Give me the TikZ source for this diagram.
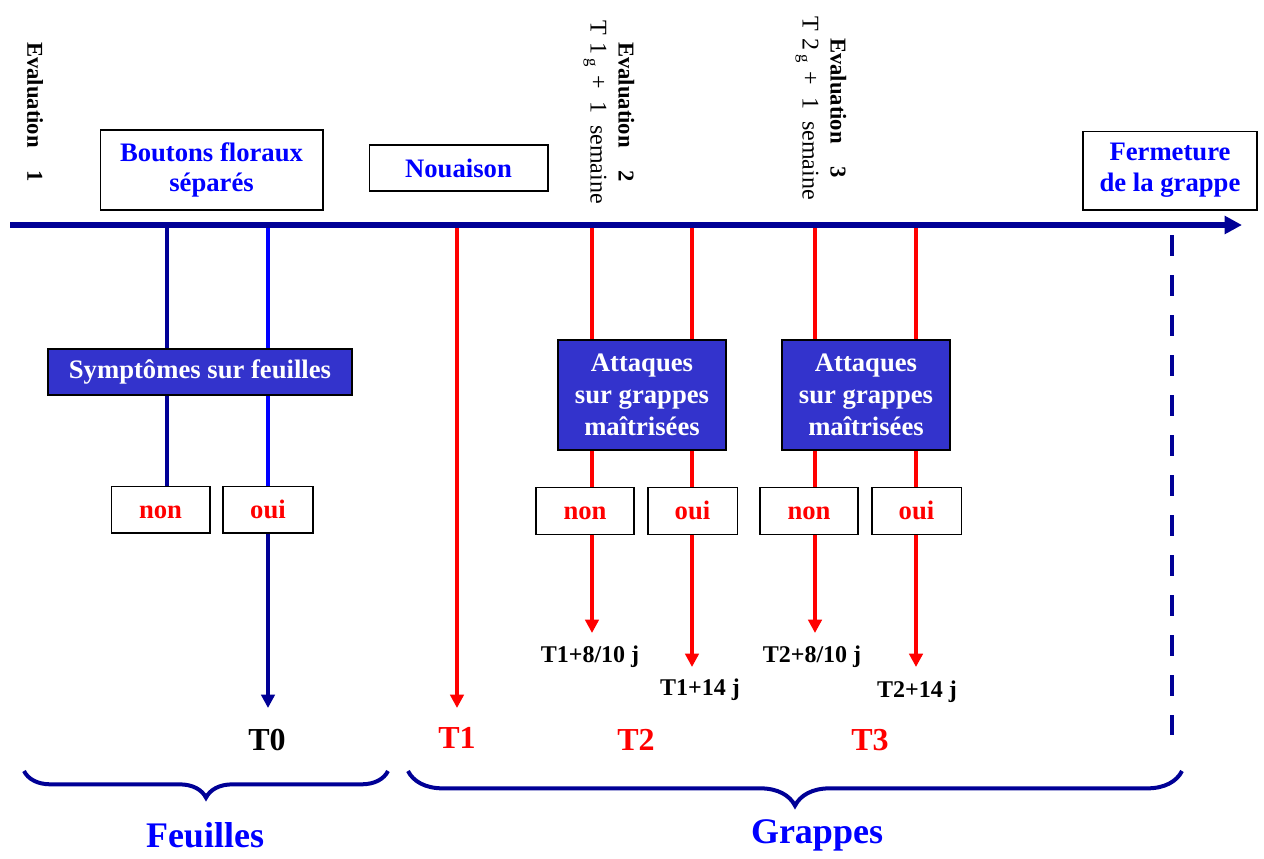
\documentclass[tikz,border=0pt]{standalone}
\usepackage{fontspec}
\setmainfont{Liberation Serif}
\usetikzlibrary{arrows.meta,decorations.pathreplacing}
\definecolor{navyline}{RGB}{0,0,150}
\definecolor{boxblue}{RGB}{51,51,204}

\begin{document}
\begin{tikzpicture}[x=0.75pt,y=-0.75pt,
  stage/.style={draw=black,line width=1pt,fill=white,text=blue,font=\fontsize{20}{23}\selectfont\bfseries,align=center,inner sep=0pt},
  question/.style={draw=black,line width=1pt,fill=boxblue,text=white,font=\fontsize{20}{24}\selectfont\bfseries,align=center,inner sep=0pt},
  answer/.style={draw=black,line width=1pt,fill=white,text=red,font=\fontsize{20}{24}\selectfont\bfseries,minimum height=35pt,text height=13pt,text depth=0pt,inner sep=0pt},
  delay/.style={font=\fontsize{18}{20}\selectfont\bfseries},
  treat/.style={font=\fontsize{24}{26}\selectfont\bfseries},
  evaluation/.style={rotate=-90,align=center,font=\fontsize{18}{21}\selectfont},
  redline/.style={red,line width=3.4pt},
  navy/.style={navyline,line width=3.2pt},
  tip/.style={-{Triangle[length=10pt,width=10pt]}}
]
\useasboundingbox (0,0) rectangle (1264,858);

\coordinate (ax0) at (10,225);
\coordinate (ax1) at (1242,225);
\coordinate (s0) at (167,225);
\coordinate (s1) at (268,225);
\coordinate (t1) at (457,225);
\coordinate (a1) at (592,225);
\coordinate (b1) at (692,225);
\coordinate (a2) at (815,225);
\coordinate (b2) at (916,225);
\coordinate (t0end) at (268,708);
\coordinate (t1end) at (457,708);
\coordinate (a1end) at (592,633);
\coordinate (b1end) at (692,667);
\coordinate (a2end) at (815,633);
\coordinate (b2end) at (916,667);

% boites
\node[stage,minimum width=167pt,minimum height=60pt] (boutons) at (211.5,170) {Boutons floraux\\séparés};
\node[stage,minimum width=134pt,minimum height=34.5pt] (nouaison) at (458.5,168) {Nouaison};
\node[stage,minimum width=130.5pt,minimum height=59pt] (fermeture) at (1170,170.5) {Fermeture\\de la grappe};

\node[evaluation,font=\fontsize{17}{20}\selectfont\bfseries] (eval1) at (35,112) {Evaluation\quad 1};
\node[evaluation] (eval2) at (609,112) {{\fontsize{17}{20}\selectfont\bfseries Evaluation\quad 2}\\T\,\,1\,\textsubscript{g}\,\,+\ \ 1\ \ semaine};
\node[evaluation] (eval3) at (821,108) {{\fontsize{17}{20}\selectfont\bfseries Evaluation\quad 3}\\T\,\,2\,\textsubscript{g}\,\,+\ \ 1\ \ semaine};

\node[treat] (T0) at (267,740) {T0};
\node[treat,text=red] (T1) at (457,738) {T1};
\node[treat,text=red] (T2) at (636,740) {T2};
\node[treat,text=red] (T3) at (870,740) {T3};

\node[delay] (d1) at (590,657) {T1+8/10 j};
\node[delay] (d2) at (700,690) {T1+14 j};
\node[delay] (d3) at (812,657) {T2+8/10 j};
\node[delay] (d4) at (917,692) {T2+14 j};

% feuilles
\node[answer,minimum width=74pt] (non0) at (160.5,509.5) {non};
\node[answer,minimum width=67.5pt] (oui0) at (268,509.5) {oui};
\draw[navy] (s0) -- (s0 |- non0.north);
\draw[blue,line width=3.2pt] (s1) -- (oui0.north);
\draw[navy,tip] (oui0.south) -- (t0end);
\node[question,minimum width=228pt,minimum height=34.5pt] (sympt) at (200,372) {Symptômes sur feuilles};

% grappes
\draw[redline,tip] (t1) -- (t1end);
\draw[redline,tip] (a1) -- (a1end);
\draw[redline,tip] (b1) -- (b1end);
\draw[redline,tip] (a2) -- (a2end);
\draw[redline,tip] (b2) -- (b2end);
\node[question,minimum width=126pt,minimum height=82.5pt] (att1) at (642,395) {Attaques\\sur grappes\\maîtrisées};
\node[question,minimum width=126pt,minimum height=82.5pt] (att2) at (866,395) {Attaques\\sur grappes\\maîtrisées};
\node[answer,minimum width=73.5pt] (non1) at (585,511) {non};
\node[answer,minimum width=67pt] (oui1) at (692.5,511) {oui};
\node[answer,minimum width=73.5pt] (non2) at (809,511) {non};
\node[answer,minimum width=67pt] (oui2) at (916.5,511) {oui};

\draw[navyline,line width=3pt,dash pattern=on 16pt off 14pt] (1172,235) -- (1172,735);
\draw[navyline,line width=4.5pt,-{Triangle[length=13pt,width=13pt]}] (ax0) -- (ax1);

\draw[navyline,line width=3pt,decorate,decoration={brace,mirror,amplitude=20pt}] (24,771) -- (388,771);
\draw[navyline,line width=3pt,decorate,decoration={brace,mirror,amplitude=26pt}] (408,771) -- (1182,771);
\node[font=\fontsize{27}{30}\selectfont\bfseries,text=blue] (feuilles) at (205,835) {Feuilles};
\node[font=\fontsize{27}{30}\selectfont\bfseries,text=blue] (grappes) at (817,835) {Grappes};
\end{tikzpicture}
\end{document}
